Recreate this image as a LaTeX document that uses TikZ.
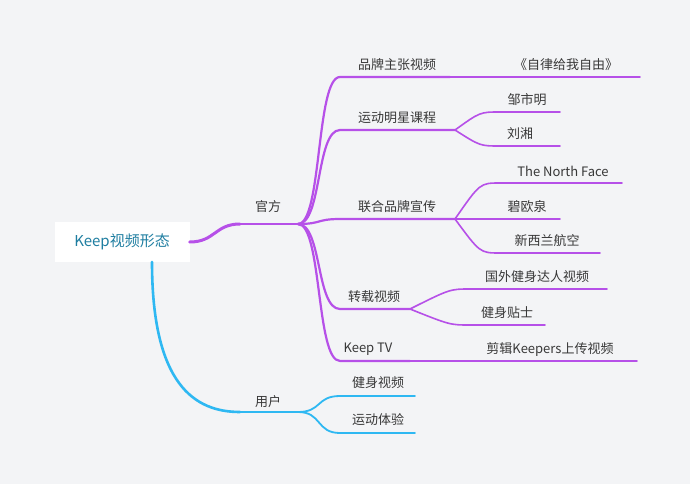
\documentclass[tikz,border=0pt]{standalone}
\usepackage{fontspec}
\setmainfont{Noto Sans CJK SC}
\begin{document}
\begin{tikzpicture}[x=1pt,y=-1pt,
  lbl/.style={font=\fontsize{13}{15}\selectfont, text=black!78, inner sep=0pt},
  pl/.style={draw=purp, line width=2.2pt, line cap=round},
  pt/.style={draw=purp, line width=1.6pt, line cap=round},
  bl/.style={draw=bluec, line width=1.8pt, line cap=round}]
\definecolor{purp}{HTML}{B650E8}
\definecolor{bluec}{HTML}{2EB8F2}
\definecolor{bgc}{HTML}{F3F4F6}
\definecolor{rootc}{HTML}{1F7EA1}
\fill[bgc] (0,0) rectangle (690,484);
\useasboundingbox (0,0) rectangle (690,484);
% root
\node[fill=white, minimum width=135pt, minimum height=40pt, font=\fontsize{15}{17}\selectfont, text=rootc] (root) at (122,242) {Keep视频形态};
% level 1
\coordinate (gfa) at (240,224); \coordinate (gfb) at (298,224);
\coordinate (yha) at (240,412); \coordinate (yhb) at (298,412);
\draw[purp, line width=3pt, line cap=round] (root.east) .. controls (215,242) and (215,224) .. (gfa);
\draw[pl] (gfa) -- (gfb);
\node[lbl] (gf) at (268,207) {官方};
\draw[bluec, line width=2.6pt, line cap=round] (152,262) .. controls (152,385) and (195,412) .. (yha);
\draw[bl] (yha) -- (yhb);
\node[lbl] (yh) at (268,402) {用户};
% level 2 under 官方
\foreach \n/\y/\xe in {a/77/450, b/130/455, c/219/455, d/309/410, e/361/410}{
  \coordinate (\n1) at (340,\y); \coordinate (\n2) at (\xe,\y);
  \draw[pl] (gfb) .. controls (322,224) and (316,\y) .. (\n1) -- (\n2);
}
\node[lbl] (ta) at (397,65) {品牌主张视频};
\node[lbl] (tb) at (397,118) {运动明星课程};
\node[lbl] (tc) at (397,207) {联合品牌宣传};
\node[lbl] (td) at (374,297) {转载视频};
\node[lbl] (te) at (368,349) {Keep TV};
% level 3
\coordinate (aa) at (640,77);
\draw[pt] (a2) -- (aa);
\node[lbl] (taa) at (566,65) {《自律给我自由》};
\foreach \p/\n/\xs/\y/\xe in {b/ba/500/112/560, b/bb/500/146/560, c/ca/500/183/622, c/cb/500/219/560, c/cc/500/253/600, d/da/470/289/607, d/db/470/325/545, e/ea/470/361/637}{
  \coordinate (\n1) at (\xs,\y); \coordinate (\n2) at (\xe,\y);
  \draw[pt] (\p2) .. controls ({\xs-20},\y) and ({\xs-20},\y) .. (\n1) -- (\n2);
}
\node[lbl] (tba) at (527,100) {邹市明};
\node[lbl] (tbb) at (520,134) {刘湘};
\node[lbl] (tca) at (563,171) {The North Face};
\node[lbl] (tcb) at (527,207) {碧欧泉};
\node[lbl] (tcc) at (547,241) {新西兰航空};
\node[lbl] (tda) at (537,277) {国外健身达人视频};
\node[lbl] (tdb) at (507,313) {健身贴士};
\node[lbl] (tea) at (550,349) {剪辑Keepers上传视频};
% 用户 children
\foreach \n/\y in {fa/396, fb/433}{
  \coordinate (\n1) at (340,\y); \coordinate (\n2) at (415,\y);
  \draw[bl] (yhb) .. controls (322,412) and (316,\y) .. (\n1) -- (\n2);
}
\node[lbl] (tfa) at (378,383) {健身视频};
\node[lbl] (tfb) at (378,420) {运动体验};
\end{tikzpicture}
\end{document}
